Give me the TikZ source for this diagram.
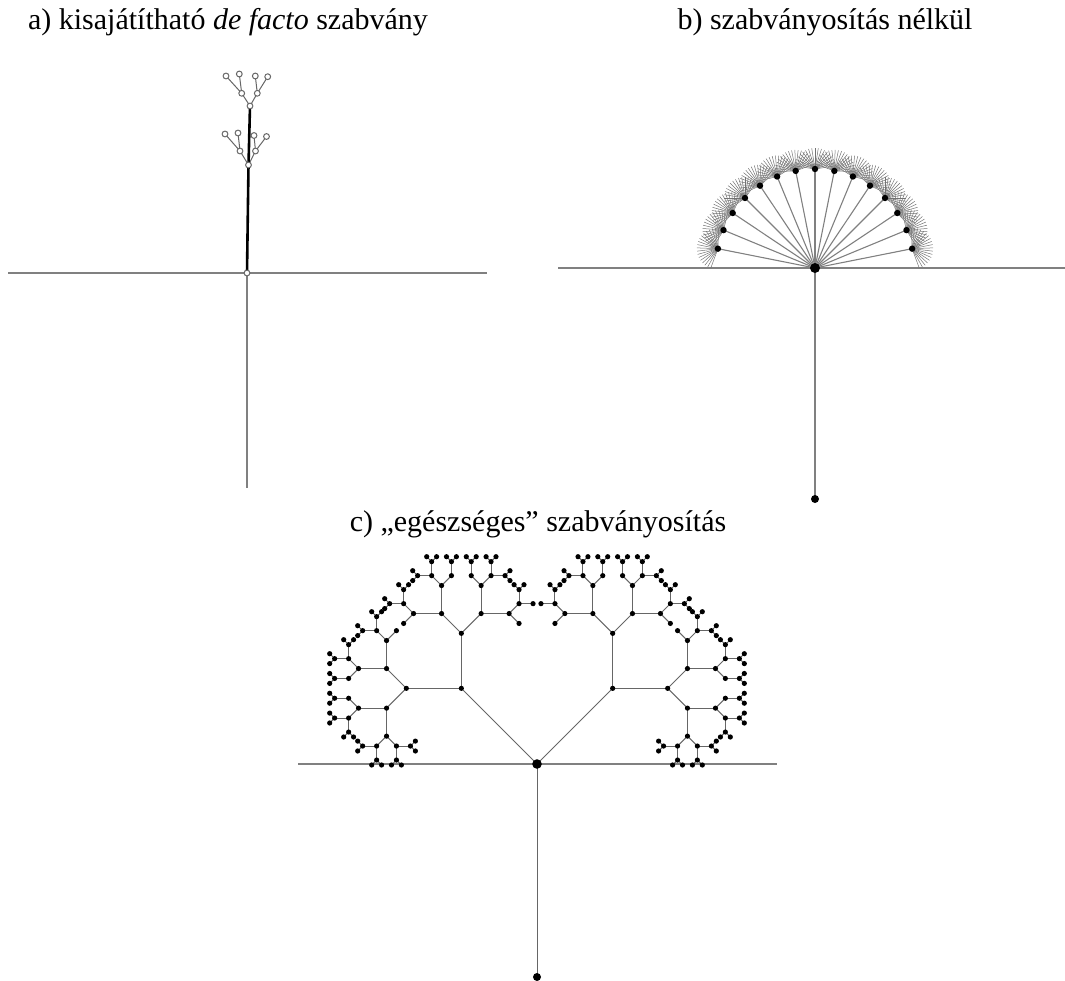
\documentclass[tikz,border=0pt]{standalone}
\usepackage{fontspec}
\setmainfont{Liberation Serif}
\def\cmode{0}
\def\cprune#1{\expandafter\def\csname cprune@#1\endcsname{}}
\cprune{LRLRRR}\cprune{LRRLLL}\cprune{LRLLLR}\cprune{LRLLLL}
\cprune{LLRLLL}\cprune{LLLRRR}\cprune{LLRRRL}\cprune{LLRRRR}
\cprune{RLRLLL}\cprune{RLLRRR}\cprune{RLRRRL}\cprune{RLRRRR}
\cprune{RRLRRR}\cprune{RRRLLL}\cprune{RRLLLR}\cprune{RRLLLL}
\cprune{LRRRLRL}\cprune{LRRRLRR}\cprune{LRRRRL}\cprune{LRRRRR}
\cprune{RLLLRLR}\cprune{RLLLRLL}\cprune{RLLLLR}\cprune{RLLLLL}
\newcommand\cbranch[5]{%
  \ifnum#4<8\relax
    \ifcsname cprune@#5\endcsname
    \else
      \begingroup
        \pgfmathtruncatemacro\cidx{#4-1}%
        \pgfmathsetmacro\clen{{107,55,28,28,14,14,7}[\cidx]}%
        \pgfmathsetmacro\cnx{#1+\clen*cos(#3)}%
        \pgfmathsetmacro\cny{#2-\clen*sin(#3)}%
        \ifnum\cmode=0
          \draw[cline] (#1,#2) -- (\cnx,\cny);
        \else
          \fill (\cnx,\cny) circle[radius=1.3pt];
        \fi
        \pgfmathtruncatemacro\cnl{#4+1}%
        \pgfmathsetmacro\caa{#3+45}%
        \pgfmathsetmacro\cab{#3-45}%
        \edef\cnext{\noexpand\cbranch{\cnx}{\cny}{\caa}{\cnl}{#5L}\noexpand\cbranch{\cnx}{\cny}{\cab}{\cnl}{#5R}}%
        \cnext
      \endgroup
    \fi
  \fi}
\begin{document}
\begin{tikzpicture}[x=0.5pt,y=-0.5pt,
  title/.style={anchor=base,inner sep=0pt,font=\fontsize{15pt}{18pt}\selectfont},
  gline/.style={draw=black!50,line width=0.55pt},
  cline/.style={draw=black!60,line width=0.5pt},
  hair/.style={draw=black!55,line width=0.25pt},
  stem/.style={draw=black,line width=1.3pt},
  odot/.style={circle,draw=black!60,fill=white,line width=0.5pt,inner sep=0pt,minimum size=2.9pt}]
\useasboundingbox (0,0) rectangle (1065,980);
% titles
\node[title] (ta) at (228,29) {a) kisajátítható \textit{de facto} szabvány};
\node[title] (tb) at (825,29) {b) szabványosítás nélkül};
\node[title] (tc) at (538,531) {c) „egészséges” szabványosítás};
% ---------- panel a
\coordinate (aL) at (8,273);
\coordinate (aR) at (487,273);
\coordinate (aB) at (247,488);
\coordinate (a0) at (247,273);
\coordinate (n1) at (248.5,165);
\coordinate (n2) at (250,106);
\coordinate (b1) at (240,151);
\coordinate (b2) at (255.5,151);
\coordinate (l1) at (225,134);
\coordinate (l2) at (238,133);
\coordinate (l3) at (254,135.5);
\coordinate (l4) at (266.5,136.5);
\coordinate (b3) at (241.7,93.3);
\coordinate (b4) at (257.3,93.3);
\coordinate (l5) at (226,76);
\coordinate (l6) at (239.3,74);
\coordinate (l7) at (255.3,76);
\coordinate (l8) at (267.7,76.7);
\draw[gline] (aL) -- (aR);
\draw[gline] (a0) -- (aB);
\draw[cline] (n1) -- (b1) (n1) -- (b2) (b1) -- (l1) (b1) -- (l2) (b2) -- (l3) (b2) -- (l4);
\draw[cline] (n2) -- (b3) (n2) -- (b4) (b3) -- (l5) (b3) -- (l6) (b4) -- (l7) (b4) -- (l8);
\draw[stem] (a0) -- (n1) -- (n2);
\foreach \p in {a0,n1,n2,b1,b2,b3,b4,l1,l2,l3,l4,l5,l6,l7,l8}{
  \node[odot] (o\p) at (\p) {};
}
% ---------- panel b
\coordinate (bc) at (815,268);
\coordinate (bL) at (558,268);
\coordinate (bR) at (1065,268);
\coordinate (bB) at (815,499);
\draw[gline] (bL) -- (bR);
\draw[gline] (bc) -- (bB);
\foreach \k in {1,...,15}{
  \pgfmathsetmacro\phi{\k*11.25}
  \pgfmathsetmacro\dx{815+99*cos(\phi)}
  \pgfmathsetmacro\dy{268-99*sin(\phi)}
  \coordinate (bk\k) at (\dx,\dy);
  \draw[gline] (bc) -- (bk\k);
  \foreach \j in {1,...,19}{
    \pgfmathsetmacro\psi{\phi-90+\j*9}
    \coordinate (bh) at ({\dx+21*cos(\psi)},{\dy-21*sin(\psi)});
    \draw[hair] (bk\k) -- (bh);
  }
}
\foreach \k in {1,...,15}{ \fill (bk\k) circle[radius=1.6pt]; }
\fill (bc) circle[radius=2.5pt];
\fill (bB) circle[radius=2pt];
% ---------- panel c
\coordinate (cc) at (537,764);
\coordinate (cL) at (298,764);
\coordinate (cR) at (777,764);
\coordinate (cB) at (537,977);
\draw[gline] (cL) -- (cR);
\draw[cline] (cc) -- (cB);
\def\cmode{0}
\cbranch{537}{764}{135}{1}{L}
\cbranch{537}{764}{45}{1}{R}
\def\cmode{1}
\cbranch{537}{764}{135}{1}{L}
\cbranch{537}{764}{45}{1}{R}
\fill (cc) circle[radius=2.4pt];
\fill (cB) circle[radius=2pt];
\end{tikzpicture}
\end{document}
